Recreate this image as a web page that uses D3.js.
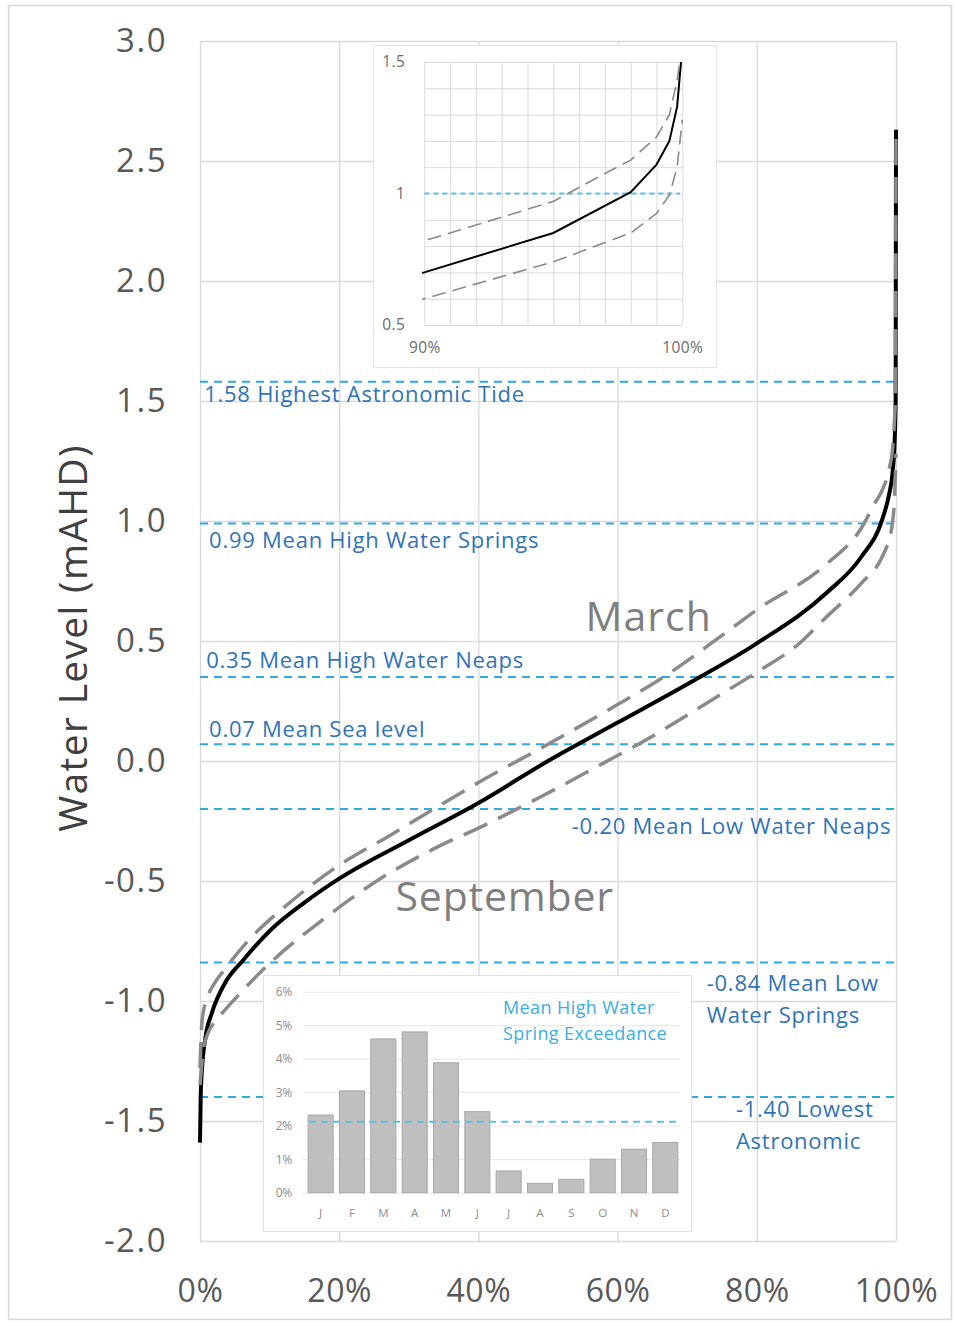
<!DOCTYPE html>
<html><head><meta charset="utf-8">
<script src="https://cdn.jsdelivr.net/npm/d3@7"></script>
<style>body{margin:0;background:#fff}svg{display:block}text{font-family:"Open Sans",sans-serif}</style>
</head><body><svg id="c" width="956" height="1322"></svg>
<script>
// ---------- data ----------
const xTickValues = [0, 20, 40, 60, 80, 100];
const yTickValues = [-2, -1.5, -1, -0.5, 0, 0.5, 1, 1.5, 2, 2.5, 3];
const averageCurve = [[0,-1.59],[0.1,-1.40],[0.25,-1.30],[0.8,-1.15],[1.7,-1.05],[3.5,-0.93],[6.2,-0.83],[10.3,-0.70],[15,-0.59],[20,-0.49],[30,-0.33],[40,-0.175],[50,0.0],[60,0.16],[70,0.32],[80,0.49],[90,0.70],[95,0.85],[98,1.005],[99,1.11],[99.5,1.20],[99.8,1.33],[99.95,1.5],[100,2.63]];
const marchCurve = [[0,-1.28],[0.3,-1.08],[1,-0.99],[2,-0.93],[3.5,-0.87],[7.2,-0.74],[12.9,-0.59],[19.7,-0.44],[27.3,-0.31],[33,-0.21],[40,-0.09],[50,0.07],[60,0.235],[66.6,0.35],[76,0.545],[80,0.63],[90,0.82],[95,0.97],[97,1.076],[98,1.127],[99,1.215],[99.5,1.30],[99.8,1.43],[99.9,1.5],[100,2.63]];
const septemberCurve = [[0,-1.35],[0.5,-1.2],[1.2,-1.13],[2.4,-1.08],[5.7,-0.97],[10.5,-0.83],[17.7,-0.66],[25.4,-0.50],[34,-0.36],[40.7,-0.27],[48.9,-0.15],[57.9,-0.01],[64.2,0.09],[73.3,0.25],[80,0.37],[85.7,0.48],[90,0.60],[95,0.74],[98,0.85],[99,0.924],[99.5,0.994],[99.8,1.10],[100,1.28]];
const refLevels = [1.58, 0.99, 0.35, 0.07, -0.20, -0.84, -1.40];
const refLabels = [["1.58 Highest Astronomic Tide"],["0.99 Mean High Water Springs"],["0.35 Mean High Water Neaps"],["0.07 Mean Sea level"],["-0.20 Mean Low Water Neaps"],["-0.84 Mean Low","Water Springs"],["-1.40 Lowest","Astronomic"]];
const seriesNames = ["March", "September"];
const insetXTicks = [90, 100];
const insetYTicks = [0.5, 1, 1.5];
const insetMarker = 1.0;
const months = ["J","F","M","A","M","J","J","A","S","O","N","D"];
const exceedance = [2.32, 3.04, 4.59, 4.80, 3.88, 2.42, 0.65, 0.28, 0.40, 1.00, 1.30, 1.50];
const exceedanceMean = 2.12;
const exceedanceTicks = [0,1,2,3,4,5,6];
const exceedanceTitle = ["Mean High Water", "Spring Exceedance"];
const yTitle = "Water Level (mAHD)";

// ---------- layout ----------
const svg = d3.select("#c");
const L = 200, R = 896, T = 41, B = 1241;
const x = d3.scaleLinear().domain([0,100]).range([L,R]);
const y = d3.scaleLinear().domain([-2,3]).range([B,T]);
const gridCol = "#d9d9d9", labCol = "#595959", refCol = "#2fa9de", refTextCol = "#2f74b5";

svg.append("rect").attr("x",8.5).attr("y",5.5).attr("width",943).attr("height",1314)
  .attr("fill","#fff").attr("stroke","#d6d6d6").attr("stroke-width",1.5);

// grid
const gy = svg.append("g").attr("transform",`translate(${L},0)`)
  .call(d3.axisLeft(y).tickValues(yTickValues).tickSize(-(R-L)).tickFormat(""));
const gx = svg.append("g").attr("transform",`translate(0,${B})`)
  .call(d3.axisBottom(x).tickValues(xTickValues).tickSize(-(B-T)).tickFormat(""));
[gy,gx].forEach(g=>{g.select(".domain").remove();g.selectAll("line").attr("stroke",gridCol).attr("stroke-width",1.3);});

// tick labels
const ly = svg.append("g").attr("transform",`translate(${L},0)`)
  .call(d3.axisLeft(y).tickValues(yTickValues).tickSize(0).tickPadding(33).tickFormat(d=>d.toFixed(1)));
ly.select(".domain").remove();
ly.selectAll("text").attr("fill",labCol).style("font-size","33px").style("letter-spacing","1.5px").style("font-family","'Open Sans',sans-serif");
const lx = svg.append("g").attr("transform",`translate(0,${B})`)
  .call(d3.axisBottom(x).tickValues(xTickValues).tickSize(0).tickPadding(38).tickFormat(d=>d+"%"));
lx.select(".domain").remove();
lx.selectAll("text").attr("fill",labCol).style("font-size","32px").style("letter-spacing","0.6px").style("font-family","'Open Sans',sans-serif");

// y title
svg.append("text").attr("transform","translate(87,638) rotate(-90)").attr("text-anchor","middle")
  .attr("fill","#404040").style("font-size","39px").style("letter-spacing","1.3px").text(yTitle);

// reference lines
svg.selectAll(".ref").data(refLevels).join("line")
  .attr("x1",L).attr("x2",R).attr("y1",d=>y(d)).attr("y2",d=>y(d))
  .attr("stroke",refCol).attr("stroke-width",2).attr("stroke-dasharray","8,6");

// curves
svg.append("clipPath").attr("id","mainclip").append("rect").attr("x",L-3).attr("y",T).attr("width",R-L+6).attr("height",B-T);
const line = d3.line().x(d=>x(d[0])).y(d=>y(d[1])).curve(d3.curveMonotoneX);
const cg = svg.append("g").attr("clip-path","url(#mainclip)");
cg.append("path").datum(averageCurve).attr("d",line).attr("fill","none").attr("stroke","#000").attr("stroke-width",4).attr("stroke-linejoin","round");
[marchCurve, septemberCurve].forEach(c=>{
  cg.append("path").datum(c).attr("d",line).attr("fill","none").attr("stroke","#8a8a8a")
    .attr("stroke-width",3.5).attr("stroke-dasharray","26,12").attr("stroke-linejoin","round");
});

// reference labels
const labelPos = [{px:0.6,dy:20,a:"start"},{px:1.3,dy:25,a:"start"},{px:0.9,dy:-9,a:"start"},{px:1.3,dy:-7,a:"start"},{px:99.3,dy:25,a:"end"},{px:72.8,dy:28,a:"start"},{px:77,dy:20,a:"start"}];
refLabels.forEach((lines,i)=>{
  const p = labelPos[i];
  const t = svg.append("text").attr("x",x(p.px)).attr("y",y(refLevels[i])+p.dy)
    .attr("text-anchor",p.a).attr("fill",refTextCol).style("font-size","22px").style("letter-spacing","0.75px");
  lines.forEach((s,j)=>t.append("tspan").attr("x",x(p.px)).attr("dy",j?32:0).text(s));
});

// series names
svg.append("text").attr("x",x(55.4)).attr("y",631).attr("fill","#7f7f7f").style("font-size","41px").style("letter-spacing","1px").text(seriesNames[0]);
svg.append("text").attr("x",x(28.1)).attr("y",911).attr("fill","#7f7f7f").style("font-size","41px").style("letter-spacing","0.8px").text(seriesNames[1]);

// ---------- top inset ----------
const ti = svg.append("g");
ti.append("rect").attr("x",373.5).attr("y",45.5).attr("width",343).attr("height",322).attr("fill","#fff").attr("stroke","#e3e3e3");
const xi = d3.scaleLinear().domain([90,100]).range([424.3,682.3]);
const yi = d3.scaleLinear().domain([0.5,1.5]).range([325,62]);
const gix = ti.append("g").attr("transform","translate(0,325)")
  .call(d3.axisBottom(xi).tickValues(d3.range(90,100.5,1)).tickSize(-263).tickFormat(""));
const giy = ti.append("g").attr("transform","translate(424.3,0)")
  .call(d3.axisLeft(yi).tickValues(d3.range(0,11).map(i=>0.5+i*0.1)).tickSize(-258).tickFormat(""));
[gix,giy].forEach(g=>{g.select(".domain").remove();g.selectAll("line").attr("stroke","#d9d9d9").attr("stroke-width",1);});
const lix = ti.append("g").attr("transform","translate(0,325)")
  .call(d3.axisBottom(xi).tickValues(insetXTicks).tickSize(0).tickPadding(17).tickFormat(d=>d+"%"));
const liy = ti.append("g").attr("transform","translate(424.3,0)")
  .call(d3.axisLeft(yi).tickValues(insetYTicks).tickSize(0).tickPadding(19).tickFormat(d=>d));
[lix,liy].forEach(g=>{g.select(".domain").remove();g.selectAll("text").attr("fill","#6b6b6b").style("font-size","15.5px").style("letter-spacing","0.4px").style("font-family","'Open Sans',sans-serif");});
ti.append("line").attr("x1",424.3).attr("x2",680).attr("y1",yi(insetMarker)).attr("y2",yi(insetMarker))
  .attr("stroke","#5cc0e8").attr("stroke-width",2).attr("stroke-dasharray","5,4");
ti.append("clipPath").attr("id","iclip").append("rect").attr("x",422).attr("y",62).attr("width",262).attr("height",263);
const iline = d3.line().x(d=>xi(d[0])).y(d=>yi(d[1])).curve(d3.curveLinear);
const ic = ti.append("g").attr("clip-path","url(#iclip)");
ic.append("path").datum(averageCurve).attr("d",iline).attr("fill","none").attr("stroke","#000").attr("stroke-width",2);
[marchCurve, septemberCurve].forEach(c=>{
  ic.append("path").datum(c).attr("d",iline).attr("fill","none").attr("stroke","#8a8a8a")
    .attr("stroke-width",1.6).attr("stroke-dasharray","14,7");
});

// ---------- bottom inset ----------
const bi = svg.append("g");
bi.append("rect").attr("x",263.5).attr("y",975.5).attr("width",428).attr("height",256).attr("fill","#fff").attr("stroke","#e0e0e0");
const yb = d3.scaleLinear().domain([0,6]).range([1192.7,991.7]);
const xb = d3.scaleBand().domain(d3.range(months.length)).range([305,681]).paddingInner(0.2).paddingOuter(0.1);
const gbg = bi.append("g").attr("transform","translate(303,0)")
  .call(d3.axisLeft(yb).tickValues(exceedanceTicks).tickSize(-377).tickFormat(""));
gbg.select(".domain").remove(); gbg.selectAll("line").attr("stroke","#e6e6e6");
const lby = bi.append("g").attr("transform","translate(303,0)")
  .call(d3.axisLeft(yb).tickValues(exceedanceTicks).tickSize(0).tickPadding(11).tickFormat(d=>d+"%"));
lby.select(".domain").remove();
lby.selectAll("text").attr("fill","#8c8c8c").style("font-size","12px").style("letter-spacing","-0.3px").style("font-family","'Open Sans',sans-serif");
bi.selectAll(".bar").data(exceedance).join("rect")
  .attr("x",(d,i)=>xb(i)).attr("width",xb.bandwidth())
  .attr("y",d=>yb(d)).attr("height",d=>yb(0)-yb(d))
  .attr("fill","#bfbfbf").attr("stroke","#a8a8a8").attr("stroke-width",1);
const lbx = bi.append("g").attr("transform","translate(0,1192.7)")
  .call(d3.axisBottom(xb).tickSize(0).tickPadding(16).tickFormat(i=>months[i]));
lbx.select(".domain").remove();
lbx.selectAll("text").attr("fill","#8c8c8c").style("font-size","11.5px").style("font-family","'Open Sans',sans-serif");
bi.append("line").attr("x1",309).attr("x2",680).attr("y1",yb(exceedanceMean)).attr("y2",yb(exceedanceMean))
  .attr("stroke","#5cc0e8").attr("stroke-width",2).attr("stroke-dasharray","7,5");
const bt = bi.append("text").attr("fill","#3aaee2").style("font-size","18px").style("letter-spacing","0.4px");
exceedanceTitle.forEach((s,j)=>bt.append("tspan").attr("x",503).attr("y",1014+j*26).text(s));
</script></body></html>
